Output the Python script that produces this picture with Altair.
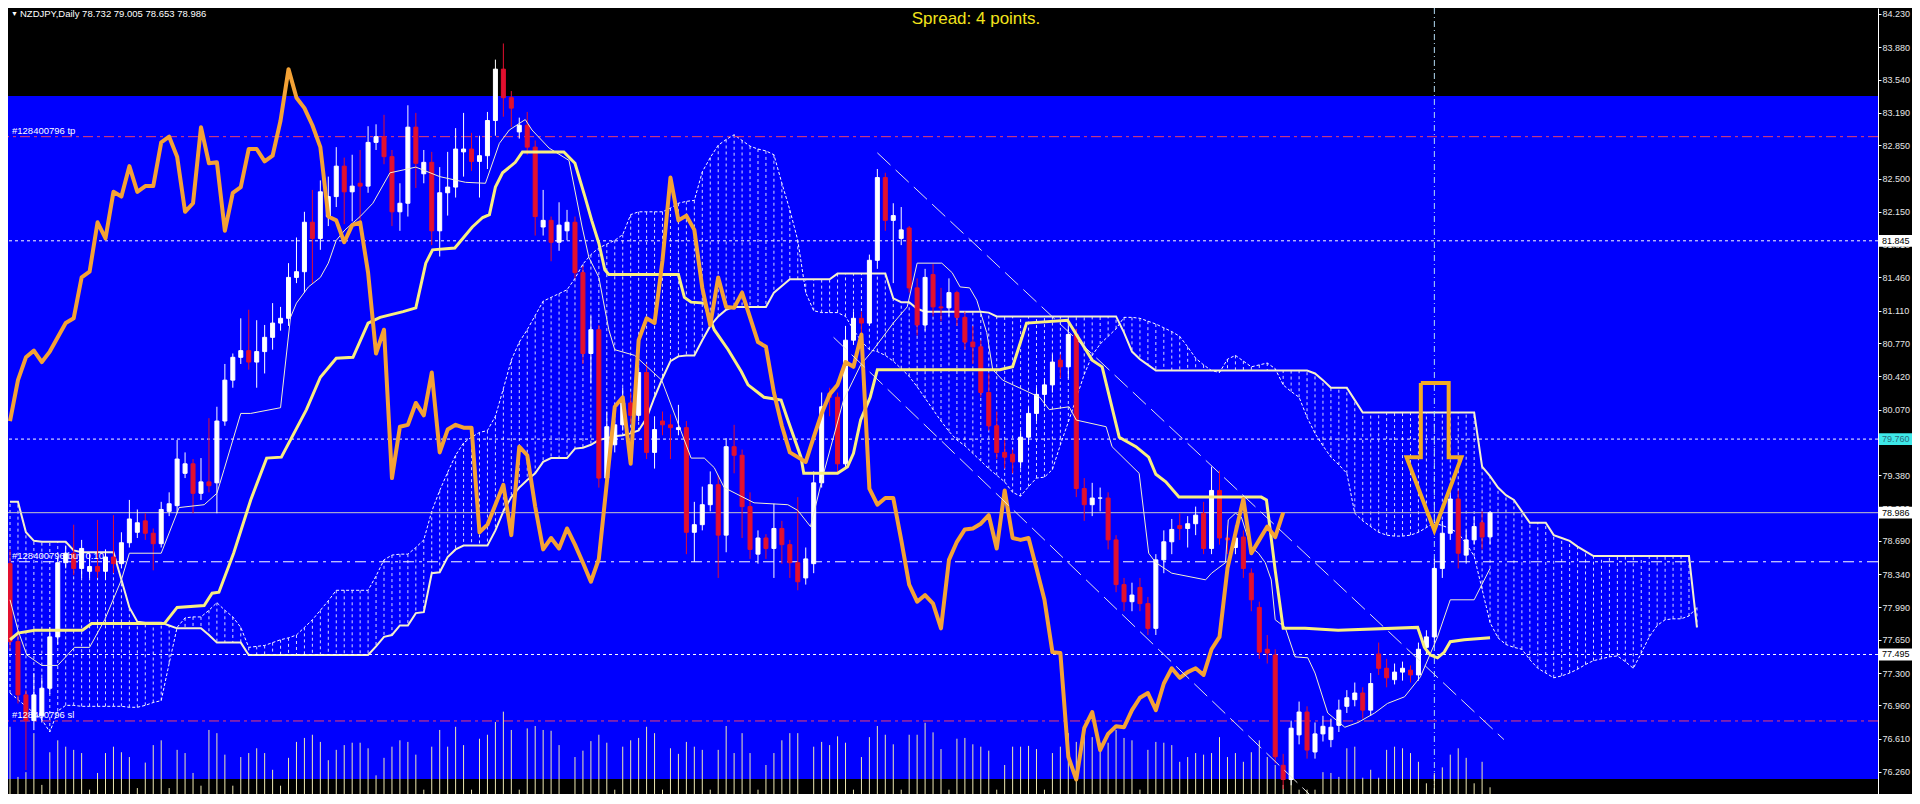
import altair as alt
import pandas as pd

alt.data_transformers.disable_max_rows()

# ---------------- data ----------------
AXIS_TICKS = [84.230, 83.880, 83.540, 83.190, 82.850, 82.500, 82.150, 81.810, 81.460, 81.110,
              80.770, 80.420, 80.070, 79.730, 79.380, 79.030, 78.690, 78.340, 77.990, 77.650,
              77.300, 76.960, 76.610, 76.260, 75.920]

OPEN = [78.45, 77.63, 77.07, 76.80, 76.85, 77.14, 77.68, 78.46, 78.56, 78.40, 78.37, 78.42, 78.37, 78.52,
        78.45, 78.67, 78.78, 78.90, 78.77, 78.66, 79.00, 79.06, 79.40, 79.50, 79.19, 79.31, 79.30,
        79.95, 80.38, 80.62, 80.69, 80.57, 80.68, 80.83, 80.98, 81.03, 81.46, 81.52, 82.04, 81.87, 82.10,
        82.31, 82.63, 82.36, 82.45, 82.42, 82.88, 82.94, 82.73, 82.15,
        82.24, 83.04, 82.55, 82.67, 81.95, 82.35, 82.41, 82.78, 82.81, 82.68, 82.74, 83.11, 83.65, 83.35,
        82.99, 83.06, 82.83, 81.99, 82.06, 81.83, 81.95, 82.04, 81.51, 80.66, 80.91,
        79.35, 79.70, 79.91, 80.14, 80.01, 80.46, 79.62, 79.95, 79.91, 79.86, 79.88, 78.78, 78.86, 79.07,
        79.28, 78.75, 79.68, 79.59, 79.05, 78.55, 78.72, 78.61, 78.82, 78.65, 78.46,
        78.30, 78.45, 79.30, 80.24, 80.20, 79.50, 80.80, 81.03, 80.98, 81.64, 82.51, 82.06, 81.87, 81.98,
        81.35, 80.96, 81.49, 81.15, 81.14, 81.30, 81.04, 80.78, 80.73, 80.25, 79.90,
        79.62, 79.60, 79.52, 79.78, 80.03, 80.23, 80.33, 80.59, 80.52, 80.86, 79.24, 79.07, 79.14, 79.14,
        78.70, 78.23, 78.05, 78.20, 78.03, 77.77, 78.49, 78.68, 78.85, 78.82, 78.87,
        78.98, 78.61, 79.22, 78.72, 78.62, 78.73, 78.35, 77.99, 77.55, 77.49, 76.33, 76.18, 76.65, 76.89,
        76.47, 76.66, 76.60, 76.75, 76.95, 77.02, 77.09, 76.91, 77.50, 77.35, 77.23,
        77.31, 77.33, 77.28, 77.57, 77.68, 78.40, 78.77, 79.13, 78.54, 78.70, 78.88, 78.732]

HIGH = [78.60, 77.70, 77.12, 77.30, 77.25, 77.78, 78.52, 78.64, 78.86, 78.70, 78.55, 78.91, 78.60, 78.96,
        78.78, 79.12, 79.02, 78.98, 78.82, 79.10, 79.20, 79.75, 79.62, 79.55, 79.56, 79.98, 80.10,
        80.55, 80.66, 81.03, 81.12, 81.01, 80.96, 81.19, 81.15, 81.61, 81.88, 82.15, 82.38, 82.48, 82.52,
        82.83, 82.72, 82.75, 82.80, 83.05, 83.07, 83.17, 82.80, 82.45,
        83.27, 83.19, 82.80, 82.78, 82.62, 82.78, 83.03, 83.19, 82.98, 82.95, 83.20, 83.75, 83.92, 83.42,
        83.14, 83.20, 82.90, 82.38, 82.10, 82.25, 82.17, 82.10, 81.58, 81.05, 80.96,
        80.05, 80.12, 80.30, 80.25, 80.55, 80.55, 80.00, 80.05, 80.02, 80.12, 79.95, 79.10, 79.26, 79.42,
        79.38, 79.77, 79.91, 79.65, 79.20, 78.80, 78.76, 79.08, 78.90, 78.70, 79.15,
        78.62, 79.42, 80.25, 80.30, 80.25, 80.95, 81.10, 81.10, 81.70, 82.60, 82.56, 82.24, 82.20, 82.00,
        81.45, 81.55, 81.60, 81.35, 81.45, 81.32, 81.10, 80.95, 80.80, 80.45, 80.05,
        79.75, 79.65, 79.85, 80.10, 80.30, 80.40, 80.65, 80.65, 80.95, 80.92, 79.35, 79.30, 79.25, 79.20,
        78.75, 78.30, 78.25, 78.30, 78.10, 78.55, 78.80, 78.92, 78.98, 78.95, 79.05,
        79.10, 79.47, 79.43, 78.85, 78.85, 78.80, 78.40, 78.05, 77.70, 77.55, 76.45, 76.80, 77.00, 76.95,
        76.78, 76.85, 76.82, 77.02, 77.12, 77.20, 77.15, 77.30, 77.62, 77.45, 77.40,
        77.42, 77.38, 77.62, 77.75, 78.50, 78.90, 79.20, 79.22, 78.80, 78.95, 79.00, 79.005]

LOW = [77.55, 76.98, 76.28, 76.70, 76.78, 77.08, 77.60, 78.40, 78.33, 78.30, 78.30, 78.30, 78.28, 78.35,
       78.40, 78.62, 78.72, 78.70, 78.38, 78.62, 78.95, 78.98, 79.35, 78.98, 79.12, 79.20, 78.98,
       79.90, 80.30, 80.55, 80.49, 80.30, 80.45, 80.70, 80.90, 80.95, 81.40, 81.30, 81.40, 81.75, 82.00,
       82.20, 82.02, 82.05, 82.05, 82.35, 82.80, 82.65, 82.00, 81.95,
       82.10, 82.40, 82.45, 81.80, 81.68, 82.11, 82.30, 82.52, 82.58, 82.30, 82.60, 82.95, 83.15, 83.04,
       82.92, 82.75, 81.90, 81.90, 81.63, 81.74, 81.85, 81.45, 80.55, 80.35, 79.25,
       79.30, 79.62, 79.85, 79.92, 79.95, 79.55, 79.45, 79.80, 79.55, 79.80, 78.55, 78.47, 78.80, 79.00,
       78.30, 78.57, 79.40, 78.72, 78.50, 78.45, 78.50, 78.30, 78.45, 78.30, 78.17,
       78.23, 78.35, 79.25, 80.00, 79.40, 79.45, 80.75, 80.80, 80.95, 81.55, 81.95, 81.40, 81.80, 81.30,
       80.85, 80.90, 81.05, 81.00, 81.05, 80.95, 80.70, 80.55, 80.20, 79.85, 79.55,
       79.45, 79.40, 79.45, 79.70, 79.95, 80.10, 80.25, 80.40, 80.40, 79.15, 78.90, 78.95, 79.00, 78.60,
       78.15, 77.95, 77.95, 77.95, 77.70, 77.70, 78.35, 78.55, 78.70, 78.62, 78.75,
       78.55, 78.55, 78.65, 78.55, 78.55, 78.30, 77.95, 77.45, 77.40, 76.35, 76.08, 76.12, 76.55, 76.40,
       76.40, 76.58, 76.52, 76.68, 76.88, 76.95, 76.82, 76.85, 77.28, 77.15, 77.18,
       77.22, 77.20, 77.22, 77.50, 77.60, 78.30, 78.70, 78.40, 78.45, 78.65, 78.60, 78.653]

CLOSE = [77.63, 77.07, 76.80, 77.07, 77.14, 77.68, 78.46, 78.56, 78.40, 78.61, 78.42, 78.37, 78.52, 78.45,
         78.67, 78.92, 78.88, 78.77, 78.66, 79.02, 79.08, 79.55, 79.50, 79.19, 79.31, 79.27, 79.95,
         80.38, 80.62, 80.69, 80.57, 80.68, 80.83, 80.98, 81.03, 81.46, 81.52, 82.04, 81.87, 82.36, 82.31,
         82.63, 82.36, 82.42, 82.42, 82.88, 82.94, 82.73, 82.15, 82.24,
         83.04, 82.66, 82.67, 81.95, 82.35, 82.41, 82.81, 82.81, 82.68, 82.74, 83.11, 83.65, 83.35, 83.24,
         83.06, 82.83, 82.10, 82.06, 81.83, 82.01, 82.04, 81.51, 80.66, 80.91, 79.35,
         79.89, 79.91, 80.14, 80.01, 80.46, 79.62, 79.86, 79.91, 79.88, 79.88, 78.78, 78.86, 79.07, 79.28,
         78.75, 79.68, 79.59, 79.05, 78.60, 78.72, 78.61, 78.82, 78.65, 78.46, 78.26,
         78.50, 79.30, 80.10, 80.20, 79.50, 80.80, 81.03, 80.98, 81.64, 82.51, 82.06, 82.11, 81.96, 81.35,
         80.96, 81.46, 81.15, 81.14, 81.30, 81.04, 80.78, 80.73, 80.25, 79.90, 79.62,
         79.57, 79.52, 79.78, 80.03, 80.23, 80.33, 80.57, 80.52, 80.86, 79.24, 79.07, 79.14, 79.14, 78.70,
         78.23, 78.05, 78.12, 78.03, 77.77, 78.49, 78.68, 78.81, 78.82, 78.87, 78.96,
         78.61, 79.22, 78.72, 78.70, 78.72, 78.40, 78.07, 77.52, 77.51, 76.42, 76.18, 76.72, 76.89, 76.49,
         76.66, 76.74, 76.73, 76.91, 77.04, 77.09, 76.91, 77.19, 77.35, 77.25, 77.31,
         77.35, 77.28, 77.55, 77.68, 78.40, 78.77, 79.13, 78.56, 78.70, 78.84, 78.73, 78.986]

VOLUME = [9700, 3400, 4000, 8900, 2400, 6500, 8000, 7200, 6800, 6400,
          1800, 3900, 6400, 7200, 6500, 5900, 2000, 5200, 7400, 8000,
          2000, 6800, 6400, 3900, 2300, 9300, 8900, 6200, 2300, 5900,
          6400, 7000, 6400, 4300, 2300, 5800, 7800, 8300, 8700, 7800,
          5500, 6800, 7400, 7700, 7700, 7000, 3600, 5800, 7200, 8000,
          7800, 6200, 1800, 7200, 9300, 7200, 9700, 7400, 1800, 8200,
          8700, 10300, 11600, 9300, 1800, 9500, 9800, 9300, 9200, 7400,
          900, 5900, 6700, 7900, 8700, 7700, 1800, 7200, 8000, 8300,
          9700, 8900, 1800, 7000, 6300, 7800, 7200, 6800, 1800, 6800,
          9800, 6400, 8900, 6400, 1800, 4900, 6400, 8000, 8900, 8900,
          1100, 7200, 7800, 7400, 8500, 7700, 1800, 5900, 8400, 9800,
          8700, 7500, 1800, 8700, 8700, 10200, 9000, 6900, 1800, 8200,
          8300, 7500, 7200, 6700, 1800, 4900, 7200, 7200, 7300, 6900,
          1800, 6400, 7200, 8900, 7800, 8900, 8400, 7700, 7700, 9300,
          8300, 8000, 1800, 6800, 7800, 7700, 7400, 5300, 5900, 6400,
          6200, 6400, 8400, 5900, 6400, 5300, 6500, 8000, 5900, 4900,
          2400, 5200, 1800, 1800, 1800, 4000, 3900, 3400, 7000, 7200,
          3300, 4300, 3300, 6800, 7200, 7000, 6400, 5300, 2600, 3900,
          4600, 6200, 7000, 5800, 2600, 5300, 2100]

SENKOU_A = [77.09, 77.02, 76.95, 76.88, 76.81, 76.68, 76.90, 76.96, 76.96, 76.95,
            76.95, 76.95, 76.95, 76.95, 76.95, 76.94, 76.94, 76.96, 76.99, 77.01,
            77.40, 77.78, 77.88, 77.89, 77.89, 77.96, 78.04, 77.96, 77.89, 77.78,
            77.57, 77.58, 77.59, 77.62, 77.65, 77.67, 77.70, 77.78, 77.86, 77.96,
            78.06, 78.17, 78.17, 78.17, 78.17, 78.17, 78.32, 78.49, 78.54, 78.55,
            78.55, 78.62, 78.70, 79.00, 79.22, 79.41, 79.59, 79.72, 79.78, 79.83,
            79.85, 80.00, 80.29, 80.59, 80.78, 80.91, 81.06, 81.21, 81.25, 81.29,
            81.33, 81.45, 81.60, 81.70, 81.77, 81.81, 81.85, 81.91, 82.12, 82.15,
            82.15, 82.15, 82.15, 82.19, 82.24, 82.26, 82.27, 82.57, 82.72, 82.85,
            82.91, 82.96, 82.90, 82.84, 82.81, 82.79, 82.75, 82.45, 82.17, 81.85,
            81.30, 81.11, 81.09, 81.09, 81.09, 81.05, 80.91, 80.79, 80.70, 80.68,
            80.64, 80.58, 80.50, 80.42, 80.31, 80.19, 80.07, 79.95, 79.84, 79.75,
            79.69, 79.61, 79.53, 79.45, 79.38, 79.31, 79.20, 79.16, 79.26, 79.35,
            79.36, 79.44, 79.70, 79.94, 80.19, 80.44, 80.64, 80.76, 80.84, 80.92,
            81.04, 81.04, 81.03, 81.00, 80.97, 80.93, 80.89, 80.84, 80.73, 80.61,
            80.54, 80.48, 80.46, 80.60, 80.64, 80.58, 80.52, 80.54, 80.56, 80.50,
            80.33, 80.26, 80.20, 79.99, 79.82, 79.69, 79.57, 79.49, 79.40, 78.98,
            78.90, 78.84, 78.78, 78.75, 78.74, 78.74, 78.75, 78.78, 78.83, 78.88,
            78.85, 78.82, 78.77, 78.66, 78.53, 78.18, 77.83, 77.67, 77.60, 77.57,
            77.55, 77.44, 77.35, 77.30, 77.25, 77.27, 77.30, 77.34, 77.39, 77.43,
            77.45, 77.47, 77.48, 77.42, 77.35, 77.51, 77.68, 77.80, 77.86, 77.87,
            77.87, 77.90, 77.99]

SENKOU_B = [79.10, 79.10, 78.78, 78.69, 78.68, 78.68, 78.68, 78.68, 78.59, 78.57,
            78.57, 78.57, 78.57, 78.57, 78.28, 77.99, 77.84, 77.83, 77.83, 77.83,
            77.80, 77.77, 77.77, 77.77, 77.77, 77.70, 77.62, 77.62, 77.62, 77.62,
            77.49, 77.49, 77.49, 77.49, 77.49, 77.49, 77.49, 77.49, 77.49, 77.49,
            77.49, 77.49, 77.49, 77.49, 77.49, 77.49, 77.58, 77.68, 77.70, 77.80,
            77.80, 77.93, 77.94, 78.35, 78.36, 78.52, 78.60, 78.64, 78.64, 78.64,
            78.64, 78.80, 79.00, 79.15, 79.25, 79.33, 79.40, 79.52, 79.56, 79.56,
            79.56, 79.66, 79.67, 79.70, 79.75, 79.77, 79.79, 79.80, 79.82, 79.85,
            79.98, 80.20, 80.40, 80.58, 80.63, 80.64, 80.64, 80.80, 80.95, 81.05,
            81.12, 81.15, 81.15, 81.15, 81.15, 81.15, 81.30, 81.37, 81.44, 81.44,
            81.44, 81.44, 81.44, 81.44, 81.50, 81.50, 81.50, 81.50, 81.50, 81.50,
            81.50, 81.24, 81.20, 81.20, 81.13, 81.10, 81.10, 81.10, 81.10, 81.10,
            81.10, 81.10, 81.10, 81.09, 81.05, 81.05, 81.05, 81.05, 81.05, 81.05,
            81.05, 81.05, 81.05, 81.05, 81.05, 81.05, 81.05, 81.05, 81.05, 81.05,
            80.88, 80.68, 80.60, 80.54, 80.48, 80.48, 80.48, 80.48, 80.48, 80.48,
            80.48, 80.48, 80.48, 80.48, 80.48, 80.48, 80.48, 80.48, 80.48, 80.48,
            80.48, 80.48, 80.48, 80.48, 80.45, 80.38, 80.30, 80.30, 80.30, 80.17,
            80.04, 80.04, 80.04, 80.04, 80.04, 80.04, 80.04, 80.04, 80.04, 80.04,
            80.04, 80.04, 80.04, 80.04, 80.04, 79.47, 79.37, 79.25, 79.17, 79.12,
            79.00, 78.88, 78.88, 78.88, 78.75, 78.72, 78.69, 78.63, 78.58, 78.53,
            78.53, 78.53, 78.53, 78.53, 78.53, 78.53, 78.53, 78.53, 78.53, 78.53,
            78.53, 78.53, 77.78]

TENKAN = [(0, 78.07), (1, 77.75), (2.1, 77.49), (4, 77.38), (6, 77.38), (8.1, 77.57), (10, 77.57),
          (11.9, 77.86), (14, 78.28), (15, 78.56), (19, 78.56), (21.25, 79.04), (24.4, 79.07), (26, 79.19),
          (26.9, 79.44), (29, 80.03), (30.25, 80.03), (34, 80.09), (35.25, 81.04), (36, 81.19), (37.5, 81.36),
          (39, 81.46), (40, 81.61), (41, 81.85), (42.1, 81.96), (44, 82.10), (45.6, 82.24), (47.75, 82.56),
          (49.4, 82.59), (51, 82.62), (54, 82.52), (57.25, 82.46), (59.75, 82.45), (61.5, 82.87), (62.75, 83.01),
          (64.75, 83.12), (65.6, 83.01), (67.75, 82.82), (70.25, 82.69), (71.9, 81.99), (72.75, 81.67),
          (74, 81.46), (75.25, 80.91), (76, 80.70), (78.5, 80.64), (81.9, 80.38), (85.6, 79.56), (87.25, 79.56),
          (88.5, 79.46), (89.75, 79.25), (93.5, 79.09), (97.75, 79.07), (99, 79.01), (100.6, 78.84),
          (102.25, 79.40), (104.75, 80.17), (106.9, 80.54), (108.5, 80.70), (111, 80.98), (112.75, 81.15),
          (114, 81.61), (117.1, 81.61), (118.4, 81.51), (119.4, 81.36), (120.6, 81.35), (121.5, 81.22),
          (122.75, 80.88), (123.5, 80.49), (124.75, 80.38), (129.4, 80.20), (130.6, 80.07), (133.1, 80.10),
          (134, 79.96), (137.75, 79.89), (138.5, 79.68), (141.9, 79.40), (143.1, 78.56), (144, 78.46),
          (146, 78.35), (150.25, 78.28), (151, 78.35), (152.75, 78.46), (153.1, 78.91), (154, 78.98),
          (154.75, 78.94), (155.9, 78.63), (156.9, 78.56), (157.75, 78.46), (158.5, 78.28), (159, 77.86),
          (160.25, 77.78), (161.5, 77.47), (163.1, 77.46), (164, 77.30), (165.6, 76.88), (167.75, 76.73),
          (169.4, 76.78), (171.5, 76.88), (173.1, 76.98), (175.25, 77.05), (177.25, 77.26), (179.4, 77.68),
          (181, 78.07), (184, 78.07), (186, 78.40)]

KIJUN = [(0, 77.65), (1, 77.72), (3.1, 77.75), (9.1, 77.75), (10.25, 77.82), (19.4, 77.82), (21, 77.99),
         (24.4, 78.01), (25.4, 78.14), (26.25, 78.15), (28.1, 78.56), (30.25, 79.12), (32.25, 79.56),
         (34.1, 79.57), (37.25, 80.07), (39, 80.41), (41, 80.61), (43.1, 80.62), (45, 80.98), (46.5, 81.04),
         (49.4, 81.10), (51, 81.14), (52.25, 81.61), (53.1, 81.75), (55.9, 81.77), (58.1, 81.99),
         (59.4, 82.09), (60.25, 82.12), (61, 82.41), (61.9, 82.56), (63.5, 82.67), (64.4, 82.78),
         (69.6, 82.78), (71, 82.66), (72.25, 82.31), (73.1, 82.06), (74, 81.82), (74.75, 81.54),
         (75.25, 81.49), (84, 81.49), (84.75, 81.25), (85.6, 81.20), (87.25, 81.19), (88.5, 80.91),
         (90.25, 80.70), (91.9, 80.47), (92.75, 80.33), (94.75, 80.20), (96.9, 80.17), (97.75, 79.96),
         (99.4, 79.57), (99.75, 79.40), (104, 79.40), (105.25, 79.47), (106, 79.61), (106.9, 79.96),
         (108.1, 80.20), (109, 80.49), (124.4, 80.49), (126, 80.52), (127.75, 80.98), (132.9, 81.01),
         (136, 80.59), (137.25, 80.52), (139.4, 79.78), (141.5, 79.68), (143.1, 79.57), (144, 79.39),
         (145.25, 79.31), (146.9, 79.15), (157.25, 79.15), (157.9, 79.12), (159, 78.38), (160, 77.77),
         (162.75, 77.77), (166.9, 77.75), (176.9, 77.78), (177.75, 77.57), (178.5, 77.49), (179.4, 77.46),
         (180.25, 77.52), (181, 77.63), (182.75, 77.65), (186, 77.67)]

CHIKOU_SHIFT = 26

CHANNEL = [("upper", 109.0, 82.77), ("upper", 187.75, 76.60),
           ("lower", 103.5, 80.83), ("lower", 164.6, 75.92)]

ARROW = [(177.3, 80.35), (180.8, 80.35), (180.8, 79.57), (182.4, 79.57), (179.0, 78.80),
         (175.5, 79.57), (177.3, 79.57), (177.3, 80.35)]

PANEL = (83.368, 76.186)          # blue panel top / bottom prices
TP, SL, ENTRY = 82.94, 76.796, 78.47
BID = 78.986
DOTTED_LEVELS = [81.845, 79.760, 77.495]
CROSS_BAR = 179

HEADER = "NZDJPY,Daily  78.732 79.005 78.653 78.986"
SPREAD = "Spread: 4 points."
TRADE_LABELS = [(TP, "#128400796 tp"), (ENTRY, "#128400796 buy 0.10"), (SL, "#128400796 sl")]
PRICE_BOXES = [(81.845, "81.845", "#ffffff", "#000000"), (79.760, "79.760", "#3ee8e8", "#2a6a7c"),
               (78.986, "78.986", "#ffffff", "#000000"), (77.495, "77.495", "#ffffff", "#000000")]

# ---------------- layout ----------------
W, H = 1870, 786
RIGHT_PAD = 34
X_DOMAIN = [0.375, 234.125]
Y_DOMAIN = [76.028, 84.293]
VOL_DOMAIN = [1256, 100000]
FONT = "Liberation Sans"

xs = alt.Scale(domain=X_DOMAIN, nice=False, zero=False)
ys = alt.Scale(domain=Y_DOMAIN, nice=False, zero=False)


def xq(f):
    return alt.X(f"{f}:Q", scale=xs, axis=None)


def yq(f, axis=None):
    return alt.Y(f"{f}:Q", scale=ys, axis=axis)


price_axis = alt.Axis(orient="right", values=AXIS_TICKS, format=".3f", grid=False,
                      domainColor="#ffffff", domainWidth=1, tickColor="#ffffff", tickSize=3,
                      tickWidth=1, labelColor="#e6e6e6", labelFont=FONT, labelFontSize=9,
                      labelPadding=1, labelOverlap=False, labelFlush=False, title=None,
                      labelBaseline="middle")

# frames
n = len(CLOSE)
candles = pd.DataFrame({"bar": list(range(n)), "open": OPEN, "high": HIGH, "low": LOW, "close": CLOSE})
candles["dir"] = ["up" if c >= o else "down" for o, c in zip(OPEN, CLOSE)]
vol = pd.DataFrame({"bar": list(range(len(VOLUME))), "vol": VOLUME})
cloud = pd.DataFrame({"bar": list(range(len(SENKOU_A))), "a": SENKOU_A, "b": SENKOU_B})
tenkan = pd.DataFrame(TENKAN, columns=["bar", "v"])
kijun = pd.DataFrame(KIJUN, columns=["bar", "v"])
chikou = pd.DataFrame({"bar": [i - CHIKOU_SHIFT for i in range(CHIKOU_SHIFT, n)],
                       "v": CLOSE[CHIKOU_SHIFT:]})
channel = pd.DataFrame(CHANNEL, columns=["line", "bar", "v"])
arrow = pd.DataFrame([(k, b, v) for k, (b, v) in enumerate(ARROW)], columns=["k", "bar", "v"])

dir_scale = alt.Scale(domain=["up", "down"], range=["#ffffff", "#e3102f"])

layers = []

# blue panel carrying the price axis
layers.append(
    alt.Chart(pd.DataFrame({"top": [PANEL[0]], "bottom": [PANEL[1]]}))
    .mark_rect(color="#0000fe")
    .encode(x=alt.value(0), x2=alt.value(W), y=yq("top", price_axis), y2="bottom")
)

# cloud hatching
layers.append(
    alt.Chart(cloud).mark_rule(color="#ffffff", strokeWidth=1, strokeDash=[3, 3], opacity=0.85)
    .encode(x=xq("bar"), y=yq("a"), y2="b")
)
layers.append(
    alt.Chart(cloud).mark_line(color="#ffffff", strokeWidth=1, strokeDash=[3, 2])
    .encode(x=xq("bar"), y=yq("a"))
)
layers.append(
    alt.Chart(cloud).mark_line(color="#f6f1cc", strokeWidth=2)
    .encode(x=xq("bar"), y=yq("b"))
)

# horizontal levels
layers.append(
    alt.Chart(pd.DataFrame({"p": [TP, SL]}))
    .mark_rule(color="#e8406e", strokeWidth=1, strokeDash=[10, 4, 3, 4])
    .encode(y=yq("p"))
)
layers.append(
    alt.Chart(pd.DataFrame({"p": DOTTED_LEVELS}))
    .mark_rule(color="#ffffff", strokeWidth=1, strokeDash=[3, 3])
    .encode(y=yq("p"))
)
layers.append(
    alt.Chart(pd.DataFrame({"p": [ENTRY]}))
    .mark_rule(color="#ffffff", strokeWidth=1, strokeDash=[11, 5, 3, 5])
    .encode(y=yq("p"))
)
layers.append(
    alt.Chart(pd.DataFrame({"p": [BID]}))
    .mark_rule(color="#c8c8c8", strokeWidth=1)
    .encode(y=yq("p"))
)
layers.append(
    alt.Chart(pd.DataFrame({"bar": [CROSS_BAR]}))
    .mark_rule(color="#b4dcf5", strokeWidth=1, strokeDash=[6, 3, 1, 3])
    .encode(x=xq("bar"))
)

# volume
layers.append(
    alt.Chart(vol).mark_rule(color="#efe8b2", strokeWidth=1)
    .encode(x=xq("bar"),
            y=alt.Y("vol:Q", scale=alt.Scale(domain=VOL_DOMAIN, nice=False, zero=False), axis=None),
            y2=alt.datum(VOL_DOMAIN[0]))
)

# candles
layers.append(
    alt.Chart(candles).mark_rule(strokeWidth=1)
    .encode(x=xq("bar"), y=yq("low"), y2="high",
            color=alt.Color("dir:N", scale=dir_scale, legend=None))
)
layers.append(
    alt.Chart(candles).mark_bar(size=4, strokeWidth=1)
    .encode(x=xq("bar"), y=yq("open"), y2="close",
            color=alt.Color("dir:N", scale=dir_scale, legend=None),
            stroke=alt.Stroke("dir:N", scale=dir_scale, legend=None))
)

# ichimoku lines
layers.append(
    alt.Chart(tenkan).mark_line(color="#f3f1cf", strokeWidth=1)
    .encode(x=xq("bar"), y=yq("v"))
)
layers.append(
    alt.Chart(kijun).mark_line(color="#f9ef80", strokeWidth=3)
    .encode(x=xq("bar"), y=yq("v"))
)
layers.append(
    alt.Chart(chikou).mark_line(color="#f4a235", strokeWidth=4, strokeJoin="round")
    .encode(x=xq("bar"), y=yq("v"))
)

# channel
layers.append(
    alt.Chart(channel).mark_line(color="#e6e6e6", strokeWidth=1, strokeDash=[18, 7])
    .encode(x=xq("bar"), y=yq("v"), detail="line:N")
)

# arrow
layers.append(
    alt.Chart(arrow).mark_line(color="#f2aa26", strokeWidth=4, strokeJoin="miter")
    .encode(x=xq("bar"), y=yq("v"), order="k:Q")
)

# texts
layers.append(
    alt.Chart(pd.DataFrame({"t": ["\u25bc"]}))
    .mark_text(align="left", baseline="middle", color="#ffffff", font=FONT, fontSize=7)
    .encode(x=alt.value(3), y=alt.value(6), text="t:N")
)
layers.append(
    alt.Chart(pd.DataFrame({"t": [HEADER]}))
    .mark_text(align="left", baseline="middle", color="#ffffff", font=FONT, fontSize=9.5)
    .encode(x=alt.value(12), y=alt.value(6), text="t:N")
)
layers.append(
    alt.Chart(pd.DataFrame({"t": [SPREAD]}))
    .mark_text(align="center", baseline="middle", color="#f2e31b", font=FONT, fontSize=17)
    .encode(x=alt.value(968), y=alt.value(11), text="t:N")
)
layers.append(
    alt.Chart(pd.DataFrame(TRADE_LABELS, columns=["p", "t"]))
    .mark_text(align="left", baseline="middle", color="#ffffff", font=FONT, fontSize=9.5, dy=-6)
    .encode(x=alt.value(4), y=yq("p"), text="t:N")
)

# price boxes on the axis
boxes = pd.DataFrame(PRICE_BOXES, columns=["p", "t", "bg", "fg"])
boxes["hi"] = boxes["p"] + 0.062
boxes["lo"] = boxes["p"] - 0.062
layers.append(
    alt.Chart(boxes).mark_rect()
    .encode(x=alt.value(W + 1), x2=alt.value(W + RIGHT_PAD), y=yq("hi"), y2="lo",
            color=alt.Color("bg:N", scale=None))
)
layers.append(
    alt.Chart(boxes).mark_text(align="left", baseline="middle", font=FONT, fontSize=9)
    .encode(x=alt.value(W + 4), y=yq("p"), text="t:N", color=alt.Color("fg:N", scale=None))
)

chart = (
    alt.layer(*layers)
    .resolve_scale(y="independent")
    .properties(width=W, height=H,
                padding={"left": 0, "top": 0, "right": RIGHT_PAD, "bottom": 0},
                autosize=alt.AutoSizeParams(type="none"),
                background="#000000")
    .configure_view(stroke=None, fill="#000000")
)

chart.save("out.html", embed_options={"renderer": "svg", "actions": False})
